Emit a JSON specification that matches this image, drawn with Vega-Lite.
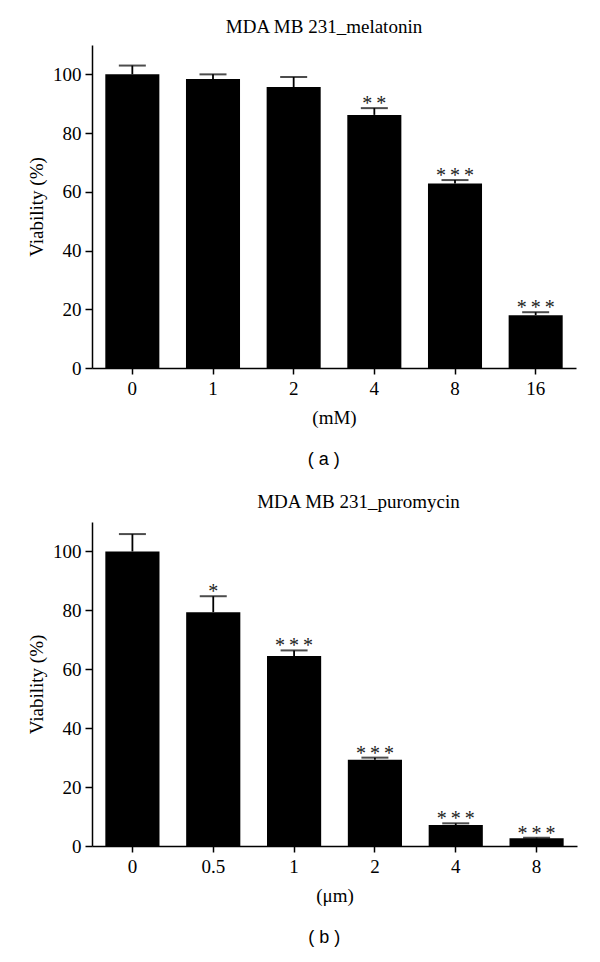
{
  "$schema": "https://vega.github.io/schema/vega-lite/v6.json",
  "background": "white",
  "padding": {"left": 27, "top": 18, "right": 5, "bottom": 5},
  "datasets": {
    "mel": [
      {"dose": "0", "value": 100.0, "err": 103.0, "sig": ""},
      {"dose": "1", "value": 98.4, "err": 100.0, "sig": ""},
      {"dose": "2", "value": 95.7, "err": 99.1, "sig": ""},
      {"dose": "4", "value": 86.2, "err": 88.5, "sig": "*\u2009*"},
      {"dose": "8", "value": 62.8, "err": 64.0, "sig": "*\u2009*\u2009*"},
      {"dose": "16", "value": 18.0, "err": 19.0, "sig": "*\u2009*\u2009*"}
    ],
    "puro": [
      {"dose": "0", "value": 100.0, "err": 105.9, "sig": ""},
      {"dose": "0.5", "value": 79.4, "err": 84.8, "sig": "*"},
      {"dose": "1", "value": 64.5, "err": 66.4, "sig": "*\u2009*\u2009*"},
      {"dose": "2", "value": 29.3, "err": 30.0, "sig": "*\u2009*\u2009*"},
      {"dose": "4", "value": 7.1, "err": 7.7, "sig": "*\u2009*\u2009*"},
      {"dose": "8", "value": 2.6, "err": 2.8, "sig": "*\u2009*\u2009*"}
    ]
  },
  "config": {
    "view": {"stroke": null},
    "font": "Liberation Serif",
    "axis": {
      "labelFont": "Liberation Serif",
      "labelFontSize": 19,
      "labelColor": "black",
      "titleFont": "Liberation Serif",
      "titleFontSize": 19,
      "titleFontWeight": "normal",
      "titleColor": "black",
      "domainColor": "black",
      "domainWidth": 1.5,
      "tickColor": "black",
      "tickWidth": 1.5,
      "grid": false
    },
    "title": {"font": "Liberation Serif", "fontSize": 19, "fontWeight": "normal", "color": "black"}
  },
  "vconcat": [
    {
      "title": {"text": "( a )", "orient": "bottom", "anchor": "middle", "font": "Liberation Sans", "fontSize": 18, "offset": 24, "dx": 22},
      "vconcat": [
        {
          "width": 484,
          "height": 323,
          "title": {"text": "MDA MB 231_melatonin", "offset": 8, "dx": -10},
          "data": {"name": "mel"},
          "encoding": {
            "x": {
              "field": "dose", "type": "nominal", "sort": ["0", "1", "2", "4", "8", "16"],
              "scale": {"paddingInner": 0.33, "paddingOuter": 0.165},
              "axis": {"title": "(mM)", "labelAngle": 0, "tickSize": 6, "labelPadding": 5, "titlePadding": 10}
            }
          },
          "layer": [
            {
              "mark": {"type": "bar", "color": "black"},
              "encoding": {
                "y": {
                  "field": "value", "type": "quantitative",
                  "scale": {"domain": [0, 110], "nice": false},
                  "axis": {"title": "Viability (%)", "values": [0, 20, 40, 60, 80, 100], "tickSize": 7, "labelPadding": 4, "titlePadding": 6}
                }
              }
            },
            {
              "mark": {"type": "rule", "color": "black", "strokeWidth": 1.8},
              "encoding": {"y": {"field": "value", "type": "quantitative"}, "y2": {"field": "err"}}
            },
            {
              "mark": {"type": "tick", "color": "black", "size": 27, "thickness": 2},
              "encoding": {"y": {"field": "err", "type": "quantitative"}}
            },
            {
              "mark": {"type": "text", "font": "Liberation Serif", "fontSize": 20, "baseline": "alphabetic", "dy": 2, "color": "#222"},
              "encoding": {"y": {"field": "err", "type": "quantitative"}, "text": {"field": "sig"}}
            }
          ]
        }
      ]
    },
    {
      "title": {"text": "( b )", "orient": "bottom", "anchor": "middle", "font": "Liberation Sans", "fontSize": 18, "offset": 24, "dx": 22},
      "vconcat": [
        {
          "width": 485,
          "height": 324,
          "title": {"text": "MDA MB 231_puromycin", "offset": 8, "dx": 24},
          "data": {"name": "puro"},
          "encoding": {
            "x": {
              "field": "dose", "type": "nominal", "sort": ["0", "0.5", "1", "2", "4", "8"],
              "scale": {"paddingInner": 0.33, "paddingOuter": 0.165},
              "axis": {"title": "(μm)", "labelAngle": 0, "tickSize": 6, "labelPadding": 5, "titlePadding": 10}
            }
          },
          "layer": [
            {
              "mark": {"type": "bar", "color": "black"},
              "encoding": {
                "y": {
                  "field": "value", "type": "quantitative",
                  "scale": {"domain": [0, 110], "nice": false},
                  "axis": {"title": "Viability (%)", "values": [0, 20, 40, 60, 80, 100], "tickSize": 7, "labelPadding": 4, "titlePadding": 6}
                }
              }
            },
            {
              "mark": {"type": "rule", "color": "black", "strokeWidth": 1.8},
              "encoding": {"y": {"field": "value", "type": "quantitative"}, "y2": {"field": "err"}}
            },
            {
              "mark": {"type": "tick", "color": "black", "size": 27, "thickness": 2},
              "encoding": {"y": {"field": "err", "type": "quantitative"}}
            },
            {
              "mark": {"type": "text", "font": "Liberation Serif", "fontSize": 20, "baseline": "alphabetic", "dy": 2, "color": "#222"},
              "encoding": {"y": {"field": "err", "type": "quantitative"}, "text": {"field": "sig"}}
            }
          ]
        }
      ]
    }
  ],
  "spacing": 24
}
